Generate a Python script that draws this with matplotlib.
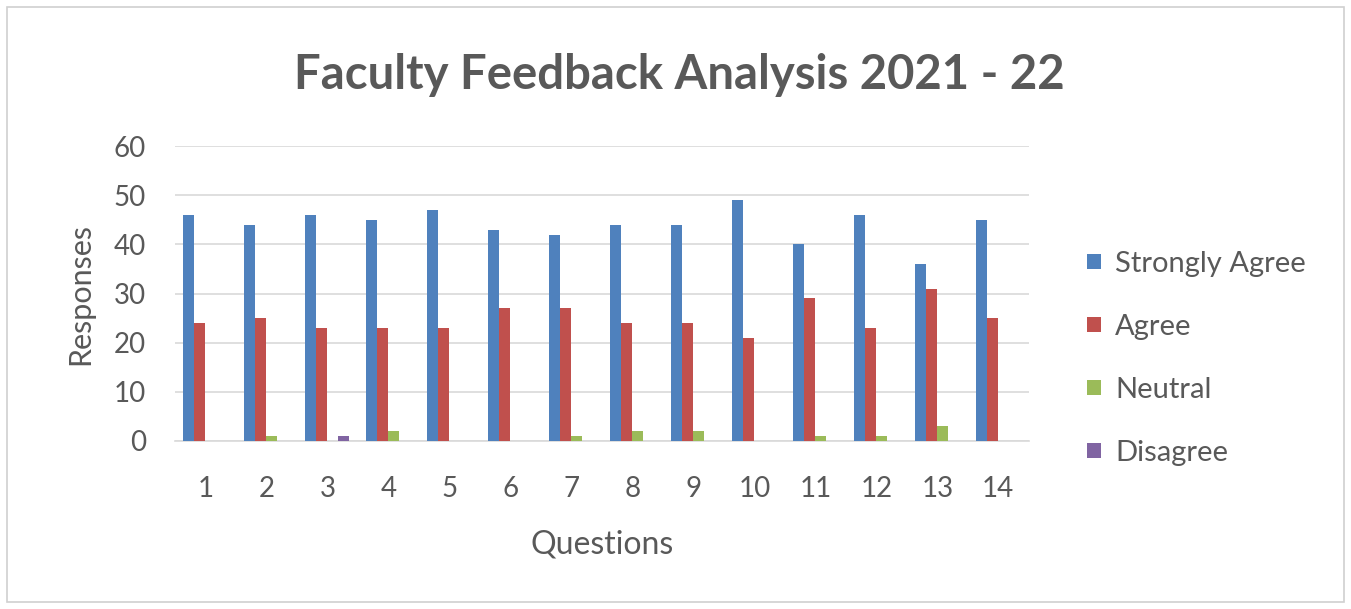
import numpy as np
import matplotlib.pyplot as plt
from matplotlib.patches import Rectangle

plt.rcParams['font.family'] = ['Lato', 'DejaVu Sans']

# Responses per question (70 respondents)
questions = [str(i) for i in range(1, 15)]
strongly_agree = [46, 44, 46, 45, 47, 43, 42, 44, 44, 49, 40, 46, 36, 45]
agree = [24, 25, 23, 23, 23, 27, 27, 24, 24, 21, 29, 23, 31, 25]
neutral = [0, 1, 0, 2, 0, 0, 1, 2, 2, 0, 1, 1, 3, 0]
disagree = [0, 0, 1, 0, 0, 0, 0, 0, 0, 0, 0, 0, 0, 0]

series = [
    ("Strongly Agree", strongly_agree, "#4F81BD"),
    ("Agree", agree, "#C0504D"),
    ("Neutral", neutral, "#9BBB59"),
    ("Disagree", disagree, "#8064A2"),
]

text_col = "#595959"
grid_col = "#D9D9D9"

fig = plt.figure(figsize=(13.51, 6.09), dpi=100)
fig.patch.set_facecolor("white")
# thin frame round the whole chart
fig.patches.append(Rectangle((0.005, 0.012), 0.99, 0.977, transform=fig.transFigure,
                             fill=False, edgecolor="#D0D0D0", linewidth=1.2))

ax = fig.add_axes([0.1295, 0.276, 0.632, 0.484])

x = np.arange(len(questions))
w = 0.18
for i, (name, vals, col) in enumerate(series):
    ax.bar(x + (i - 1.5) * w, vals, width=w, color=col, label=name, zorder=3)

ax.set_xlim(-0.5, len(questions) - 0.5)
ax.set_ylim(0, 60)
ax.set_yticks(range(0, 61, 10))
ax.set_xticks(x)
ax.set_xticklabels(questions)
ax.yaxis.grid(True, color=grid_col, linewidth=1.2, zorder=0)
for s in ["top", "right", "left"]:
    ax.spines[s].set_visible(False)
ax.spines["bottom"].set_color(grid_col)
ax.spines["bottom"].set_linewidth(1.2)
ax.tick_params(length=0, labelsize=20, colors=text_col)
ax.tick_params(axis="y", pad=21)
ax.tick_params(axis="x", pad=25)

ax.set_xlabel("Questions", fontsize=23, color=text_col, labelpad=20)
ax.set_ylabel("Responses", fontsize=22, color=text_col, labelpad=14)

fig.text(0.503, 0.877, "Faculty Feedback Analysis 2021 - 22", ha="center", va="center",
         fontsize=34, fontweight="bold", color=text_col)

leg = ax.legend(loc="center left", bbox_to_anchor=(1.038, 0.28), frameon=False,
                fontsize=21, labelcolor=text_col, handlelength=0.45, handleheight=0.45,
                handletextpad=0.5, labelspacing=1.27)

fig.savefig("out.png", dpi=100)
